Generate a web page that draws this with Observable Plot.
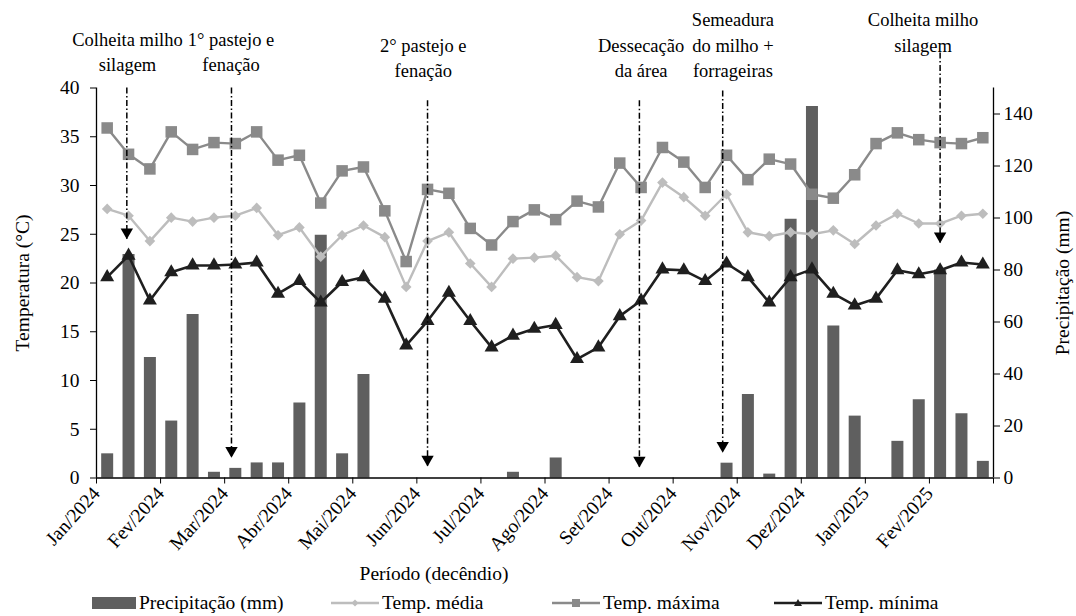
<!DOCTYPE html>
<html><head><meta charset="utf-8">
<script src="https://cdn.jsdelivr.net/npm/d3@7"></script>
<script src="https://cdn.jsdelivr.net/npm/@observablehq/plot@0.6"></script>
<style>
body{margin:0;background:#fff;}
#wrap{position:relative;width:1076px;height:616px;font-family:"Liberation Serif","Tinos","Times New Roman","DejaVu Serif",serif;overflow:hidden;}
#legend{position:absolute;left:0;top:590px;width:1076px;height:26px;}
.item{position:absolute;top:0;height:26px;display:flex;align-items:center;font-size:19.5px;color:#000;white-space:nowrap;}
.item svg{margin-right:3px;}
</style></head><body><div id="wrap"><div id="chart"></div><div id="legend"></div></div>
<script>
// ---- data (dekads: Jan/2024 .. Fev/2025, 3 per month) ----
const months = ["Jan/2024","Fev/2024","Mar/2024","Abr/2024","Mai/2024","Jun/2024","Jul/2024","Ago/2024","Set/2024","Out/2024","Nov/2024","Dez/2024","Jan/2025","Fev/2025"];
const precip = [9.3,86,46.3,21.9,62.9,2.2,3.7,5.8,5.8,28.8,93.4,9.3,39.8,0,0,0,0,0,0,2.2,0,7.7,0,0,0,0,0,0,0,5.7,32.1,1.5,99.5,142.9,58.5,23.8,0,14.1,30.1,80,24.7,6.4];
const tempMax = [35.9,33.2,31.7,35.5,33.7,34.4,34.3,35.5,32.6,33.1,28.2,31.5,31.9,27.4,22.2,29.6,29.2,25.6,23.9,26.3,27.5,26.5,28.4,27.8,32.3,29.8,33.9,32.4,29.8,33.1,30.6,32.7,32.2,29.1,28.7,31.1,34.3,35.4,34.7,34.4,34.3,34.9];
const tempMed = [27.6,26.9,24.3,26.7,26.3,26.7,26.9,27.7,24.9,25.7,22.7,24.9,25.9,24.7,19.6,24.3,25.2,22.0,19.6,22.5,22.6,22.8,20.6,20.2,25.0,26.4,30.3,28.8,26.9,29.1,25.2,24.8,25.2,25.0,25.4,24.0,25.9,27.1,26.1,26.1,26.9,27.1];
const tempMin = [20.6,22.8,18.2,21.1,21.8,21.8,21.9,22.1,18.9,20.2,18.0,20.1,20.6,18.4,13.6,16.1,19.0,16.1,13.4,14.6,15.3,15.7,12.2,13.4,16.6,18.2,21.4,21.3,20.2,22.0,20.6,18.0,20.6,21.4,18.9,17.7,18.4,21.3,20.9,21.3,22.1,21.9];
const tempTicks = [0,5,10,15,20,25,30,35,40];
const precipTicks = [0,20,40,60,80,100,120,140];
// management events (position in dekad index, arrow start/end in °C units)
const eventNames = ["Colheita milho\nsilagem","1° pastejo e\nfenação","2° pastejo e\nfenação","Dessecação\nda área","Semeadura\ndo milho +\nforrageiras","Colheita milho\nsilagem"];
const eventPos = [0.92,5.82,15.0,24.92,28.82,39.0];
const eventTop = [40,40,38.7,38.7,39.7,43.6];
const eventTip = [24.5,2.1,1.2,1.1,2.6,24.1];
const labelPos = [0.95,5.8,14.8,25.0,29.3,38.2];
const labelBase = [41.7,41.7,41.1,41.1,41.1,43.7];

const TMAX = 40, PMAX = 150, K = TMAX / PMAX;
const rows = precip.map((p, i) => ({i, p: p * K, tmax: tempMax[i], tmed: tempMed[i], tmin: tempMin[i]}));
const events = eventNames.map((name, k) => ({x: eventPos[k], top: eventTop[k], tip: eventTip[k], lx: labelPos[k], ly: labelBase[k], name}));
const n = precip.length;
const boundaries = d3.range(months.length + 1).map(k => 3 * k - 0.5);

const cBar = "#5f5f5f", cMax = "#8a8a8a", cMed = "#bdbdbd", cMin = "#1f1f1f";
const FS = 19.5;
const FONT = "'Liberation Serif', 'Tinos', 'Times New Roman', 'DejaVu Serif', serif";

const chart = Plot.plot({
  width: 1076, height: 590,
  marginLeft: 96, marginRight: 83, marginTop: 87.5, marginBottom: 112.5,
  style: {fontFamily: FONT, fontSize: FS + "px", color: "#000", background: "#fff", overflow: "visible"},
  x: {domain: [-0.5, n - 0.5], axis: null},
  y: {domain: [0, TMAX], axis: null},
  marks: [
    Plot.ruleX(rows, {x: "i", y1: 0, y2: "p", stroke: cBar, strokeWidth: 12}),
    Plot.line(rows, {x: "i", y: "tmed", stroke: cMed, strokeWidth: 2.4}),
    Plot.dot(rows, {x: "i", y: "tmed", symbol: "diamond2", r: 4.8, fill: cMed}),
    Plot.line(rows, {x: "i", y: "tmax", stroke: cMax, strokeWidth: 2.4}),
    Plot.dot(rows, {x: "i", y: "tmax", symbol: "square", r: 6.5, fill: cMax}),
    Plot.line(rows, {x: "i", y: "tmin", stroke: cMin, strokeWidth: 2.6}),
    Plot.dot(rows, {x: "i", y: "tmin", symbol: "triangle", r: 5.2, fill: cMin}),
    // axis lines
    Plot.ruleY([0], {stroke: "#000", strokeWidth: 1.3}),
    Plot.ruleX([-0.5, n - 0.5], {y1: 0, y2: TMAX, stroke: "#000", strokeWidth: 1.3}),
    Plot.axisY({ticks: tempTicks, anchor: "left", tickSize: 6, tickPadding: 11, label: null, fontSize: FS}),
    Plot.axisY({ticks: precipTicks.map(v => v * K), tickFormat: v => String(Math.round(v / K)), anchor: "right", tickSize: 6, tickPadding: 4, label: null, fontSize: FS}),
    Plot.axisX({ticks: boundaries, tickFormat: (d, i) => months[i] ?? "", tickRotate: -48, tickSize: 6, tickPadding: 6, label: null, fontSize: FS}),
    // axis titles
    Plot.text(["Temperatura (°C)"], {frameAnchor: "left", textAnchor: "middle", dx: -74, rotate: -90, fontSize: FS}),
    Plot.text(["Precipitação (mm)"], {frameAnchor: "right", textAnchor: "middle", dx: 69, rotate: -90, fontSize: FS}),
    Plot.text(["Período (decêndio)"], {frameAnchor: "bottom", dx: -111, dy: 102, fontSize: FS}),
    // management events
    Plot.ruleX(events, {x: "x", y1: "top", y2: "tip", stroke: "#000", strokeWidth: 1.5, strokeDasharray: "6,2.5,1.5,2.5"}),
    Plot.dot(events, {x: "x", y: "tip", symbol: "triangle", r: 4.6, rotate: 180, fill: "#000", dy: -7}),
    Plot.text(events, {x: "lx", y: "ly", text: "name", lineAnchor: "bottom", lineHeight: 1.38, fontSize: 18.5})
  ]
});
document.getElementById("chart").appendChild(chart);

// legend
const legendItems = [
  {label: "Precipitação (mm)", kind: "bar", color: cBar, left: 92},
  {label: "Temp. média", kind: "diamond", color: cMed, left: 331},
  {label: "Temp. máxima", kind: "square", color: cMax, left: 552},
  {label: "Temp. mínima", kind: "triangle", color: cMin, left: 774}
];
const leg = document.getElementById("legend");
for (const it of legendItems) {
  const div = document.createElement("div");
  div.className = "item";
  div.style.left = it.left + "px";
  let sw;
  if (it.kind === "bar") {
    sw = `<svg width="44" height="12"><rect x="0" y="0" width="44" height="12" fill="${it.color}"/></svg>`;
  } else {
    let m = "";
    if (it.kind === "diamond") m = `<path d="M24,2.5L27.5,6L24,9.5L20.5,6Z" fill="${it.color}"/>`;
    if (it.kind === "square") m = `<rect x="20" y="2" width="8" height="8" fill="${it.color}"/>`;
    if (it.kind === "triangle") m = `<path d="M24,2L28,9L20,9Z" fill="${it.color}"/>`;
    sw = `<svg width="48" height="12"><line x1="0" x2="48" y1="6" y2="6" stroke="${it.color}" stroke-width="2.4"/>${m}</svg>`;
  }
  div.innerHTML = sw + `<span>${it.label}</span>`;
  leg.appendChild(div);
}
</script></body></html>
